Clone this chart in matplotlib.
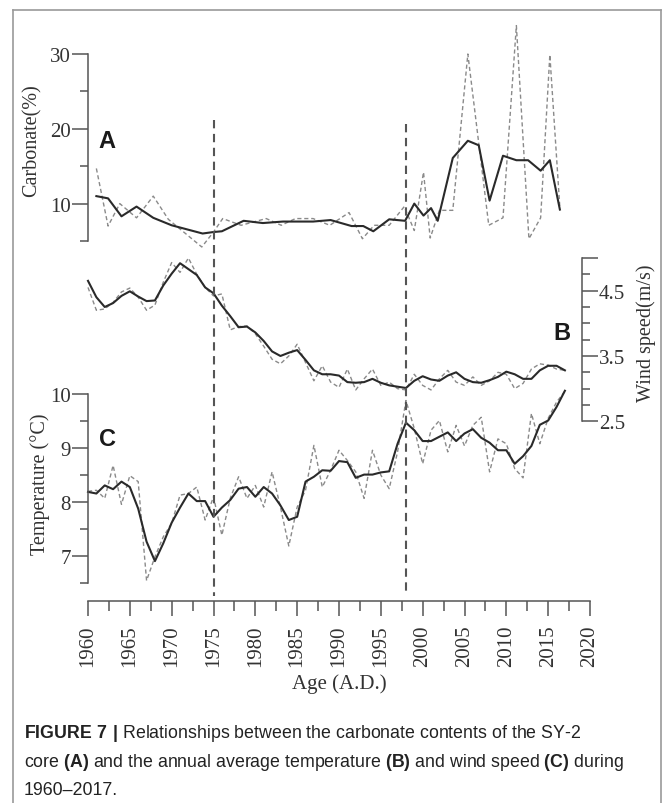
import numpy as np
import matplotlib; matplotlib.use("Agg")
import matplotlib.pyplot as plt
from matplotlib.lines import Line2D

W, H = 663, 804
plt.rcParams["font.family"] = ["Liberation Serif", "DejaVu Serif"]
plt.rcParams["lines.scale_dashes"] = False
plt.rcParams["mathtext.fontset"] = "custom"
plt.rcParams["mathtext.rm"] = "Liberation Sans"
plt.rcParams["mathtext.bf"] = "Liberation Sans:bold"

# ---- data ----
carb_dash_yr = [1961.0, 1962.4, 1963.8, 1965.8, 1967.8, 1969.6, 1973.6, 1975.0, 1976.1, 1978.3,
                1981.3, 1983.1, 1984.8, 1986.9, 1988.9, 1991.2, 1992.8, 1994.2, 1996.0, 1997.8,
                1999.0, 2000.1, 2000.9, 2002.0, 2003.6, 2005.4, 2007.9, 2009.6, 2011.2, 2012.7,
                2014.1, 2015.2, 2016.4]
carb_dash = [14.7, 7.0, 10.0, 8.1, 11.0, 7.9, 4.2, 6.2, 8.0, 7.1,
             8.0, 7.1, 8.0, 8.0, 7.1, 8.8, 5.3, 7.1, 7.1, 9.6,
             6.4, 14.2, 5.4, 9.1, 9.1, 30.0, 7.1, 8.1, 33.8, 5.3,
             8.1, 29.9, 9.4]
carb_solid_yr = [1961.0, 1962.4, 1964.0, 1965.8, 1967.8, 1970.0, 1973.7, 1975.0, 1976.0, 1978.6,
                 1980.9, 1983.3, 1986.9, 1989.0, 1991.5, 1992.9, 1994.1, 1996.0, 1997.9, 1999.0,
                 2000.1, 2001.0, 2001.8, 2003.6, 2005.4, 2006.7, 2008.0, 2009.6, 2011.2, 2012.6,
                 2014.1, 2015.2, 2016.4]
carb_solid = [11.0, 10.7, 8.3, 9.6, 8.1, 7.1, 6.0, 6.2, 6.3, 7.7,
              7.4, 7.6, 7.6, 7.8, 7.0, 7.0, 6.3, 7.9, 7.7, 10.0,
              8.4, 9.4, 7.7, 16.1, 18.4, 17.8, 10.4, 16.4, 15.8, 15.8,
              14.4, 15.8, 9.2]

years = list(range(1960, 2018))
wind_dash = [4.55, 4.20, 4.22, 4.32, 4.48, 4.54, 4.40, 4.20, 4.28, 4.63,
             4.93, 4.78, 5.00, 4.75, 4.55, 4.42, 4.45, 3.90, 3.95, 3.96,
             3.84, 3.65, 3.45, 3.38, 3.50, 3.68, 3.40, 3.12, 3.35, 3.10,
             3.02, 3.30, 2.98, 3.15, 3.30, 3.05, 3.10, 3.00, 2.98, 3.22,
             3.05, 2.98, 3.15, 3.28, 3.10, 3.05, 3.18, 3.05, 3.12, 3.25,
             3.22, 3.00, 3.08, 3.30, 3.38, 3.36, 3.30, 3.28]
wind_solid = [4.65, 4.40, 4.25, 4.31, 4.42, 4.49, 4.41, 4.34, 4.35, 4.58,
              4.76, 4.92, 4.83, 4.74, 4.55, 4.46, 4.27, 4.11, 3.94, 3.95,
              3.86, 3.73, 3.57, 3.50, 3.55, 3.59, 3.44, 3.28, 3.22, 3.22,
              3.20, 3.10, 3.09, 3.10, 3.15, 3.09, 3.05, 3.03, 3.01, 3.12,
              3.19, 3.14, 3.12, 3.20, 3.25, 3.15, 3.10, 3.09, 3.13, 3.18,
              3.26, 3.22, 3.15, 3.15, 3.28, 3.35, 3.35, 3.28]
temp_dash = [8.20, 8.22, 8.07, 8.68, 7.96, 8.49, 8.38, 6.55, 6.99, 7.36,
             7.61, 8.13, 8.16, 8.28, 7.67, 8.10, 7.39, 8.07, 8.47, 8.07,
             8.31, 7.91, 8.56, 7.91, 7.19, 7.91, 8.22, 9.05, 8.28, 8.59,
             8.96, 8.77, 8.56, 8.07, 8.96, 8.50, 8.25, 8.93, 9.88, 9.36,
             8.71, 9.33, 9.51, 8.93, 9.42, 9.04, 9.42, 9.57, 8.56, 9.17,
             9.08, 8.62, 8.45, 9.64, 9.08, 9.55, 9.85, 10.05]
temp_solid = [8.19, 8.16, 8.31, 8.24, 8.38, 8.28, 7.88, 7.27, 6.91, 7.24,
              7.62, 7.90, 8.16, 8.02, 8.02, 7.73, 7.90, 8.04, 8.25, 8.28,
              8.10, 8.28, 8.16, 7.94, 7.67, 7.73, 8.38, 8.47, 8.59, 8.58,
              8.76, 8.74, 8.45, 8.51, 8.51, 8.55, 8.57, 9.08, 9.47, 9.33,
              9.13, 9.13, 9.21, 9.29, 9.13, 9.27, 9.35, 9.19, 9.10, 8.96,
              8.96, 8.71, 8.85, 9.04, 9.43, 9.51, 9.76, 10.06]
breaks = [1975, 1998]

AX = "#555555"
SOLID = dict(color="#2a2a2a", lw=1.5, clip_on=False)
DASH = dict(color="#8a8a8a", lw=1.0, dashes=(3, 2), clip_on=False)

def box(l, t, r, b):
    return [l / W, 1 - b / H, (r - l) / W, (b - t) / H]

def px(x, y):
    return x / W, 1 - y / H

def yaxis_only(ax, side, lims, major, labels, minor):
    for s in ax.spines.values():
        s.set_visible(False)
    ax.spines[side].set_visible(True)
    ax.spines[side].set_color(AX)
    ax.spines[side].set_linewidth(1.1)
    ax.patch.set_visible(False)
    ax.set_xlim(1960, 2020)
    ax.set_ylim(*lims)
    ax.set_xticks([])
    ax.yaxis.set_ticks_position(side)
    ax.set_yticks(major)
    ax.set_yticklabels(labels)
    ax.set_yticks(minor, minor=True)
    ax.tick_params(axis="y", which="major", length=11.5, width=1.1, color=AX,
                   labelsize=15, pad=1, labelcolor="#333333")
    ax.tick_params(axis="y", which="minor", length=6, width=1.1, color=AX)

fig = plt.figure(figsize=(W / 100, H / 100), dpi=100)

# panel A: carbonate
axA = fig.add_axes(box(88, 55, 590, 242))
yaxis_only(axA, "left", (5, 30), [10, 20, 30], ["10", "20", "30"], [5, 15, 25])
axA.plot(carb_dash_yr, carb_dash, **DASH)
axA.plot(carb_solid_yr, carb_solid, **SOLID)

# panel B: wind speed
axB = fig.add_axes(box(88, 259, 590, 422.3))
yaxis_only(axB, "right", (2.5, 5.0), [2.5, 3.5, 4.5, 5.0], ["2.5", "3.5", "4.5", ""],
           [2.75, 3.0, 3.25, 3.75, 4.0, 4.25, 4.75])
axB.spines["right"].set_position(("data", 2019))
axB.plot(years, wind_dash, **DASH)
axB.plot(years, wind_solid, **SOLID)

# panel C: temperature
axC = fig.add_axes(box(88, 395, 590, 584.3))
yaxis_only(axC, "left", (6.5, 10), [7, 8, 9, 10], ["7", "8", "9", "10"], [6.5, 7.5, 8.5, 9.5])
axC.plot(years, temp_dash, **DASH)
axC.plot(years, temp_solid, **SOLID)

# shared time axis
axX = fig.add_axes(box(88, 600.7, 590, 601.7))
for s in axX.spines.values():
    s.set_visible(False)
axX.spines["bottom"].set_visible(True)
axX.spines["bottom"].set_color(AX)
axX.spines["bottom"].set_linewidth(1.1)
axX.patch.set_visible(False)
axX.set_xlim(1960, 2020)
axX.set_yticks([])
axX.set_xticks(np.arange(1960, 2021, 5))
axX.set_xticks(np.arange(1962.5, 2020, 5), minor=True)
axX.set_xticklabels([str(y) for y in range(1960, 2021, 5)], rotation=90)
axX.tick_params(axis="x", which="major", length=11, width=1.1, color=AX,
                labelsize=15, pad=6, labelcolor="#333333")
axX.tick_params(axis="x", which="minor", length=7, width=1.1, color=AX)
axX.set_xlabel("Age (A.D.)", fontsize=15, color="#333333", labelpad=5)

# vertical break lines
ov = fig.add_axes(box(88, 0, 590, H))
ov.set_xlim(1960, 2020)
ov.set_ylim(H, 0)
ov.axis("off")
ov.vlines(breaks[0], 121, 597, colors="#555555", lw=1.5, linestyles=(0, (6, 4)))
ov.vlines(breaks[1], 125, 597, colors="#555555", lw=1.5, linestyles=(0, (6, 4)))

# axis labels
fig.text(*px(32, 141), "Carbonate(%)", rotation=90, fontsize=14.5, ha="center", va="center", color="#333333")
fig.text(*px(646, 333), "Wind speed(m/s)", rotation=90, fontsize=14.5, ha="center", va="center", color="#333333")
fig.text(*px(40, 484), "Temperature (°C)", rotation=90, fontsize=14.5, ha="center", va="center", color="#333333")

# panel letters
for lab, x, y in [("A", 106.5, 141.5), ("B", 561.5, 334), ("C", 108, 440)]:
    fig.text(*px(x, y), lab, fontsize=17, fontweight="bold", family="Liberation Sans",
             ha="center", va="center", color="#1a1a1a")

# frame
fc = "#9a9a9a"
fig.add_artist(Line2D([13 / W, 13 / W], [0, 1 - 11 / H], color=fc, lw=1.2))
fig.add_artist(Line2D([661 / W, 661 / W], [0, 1 - 11 / H], color=fc, lw=1.2))
fig.add_artist(Line2D([13 / W, 661 / W], [1 - 11 / H, 1 - 11 / H], color=fc, lw=1.2))

# caption
cap = dict(fontsize=12.8, family="Liberation Sans", color="#222222", va="center", ha="left")
fig.text(*px(24, 734), r"$\mathbf{FIGURE\ 7\ |}$ Relationships between the carbonate contents of the SY-2", **cap)
fig.text(*px(24, 763), r"core $\mathbf{(A)}$ and the annual average temperature $\mathbf{(B)}$ and wind speed $\mathbf{(C)}$ during", **cap)
fig.text(*px(24, 791), "1960–2017.", **cap)

fig.savefig("out.png", dpi=100)
